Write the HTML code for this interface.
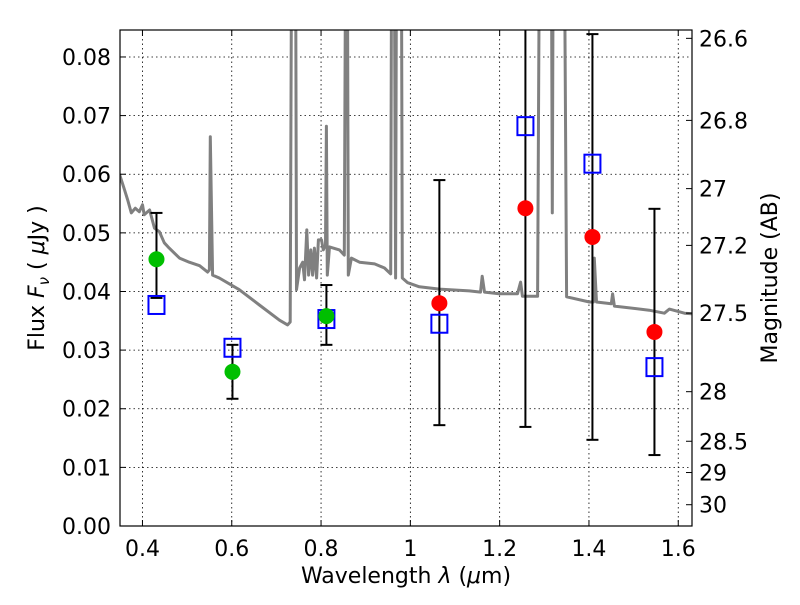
<!DOCTYPE html>
<html><head><meta charset="utf-8"><style>
body{margin:0;background:#fff;}
svg text{font-family:"DejaVu Sans","Liberation Sans",sans-serif;fill:#000;}
</style></head><body>
<svg id="chart" width="800" height="600" viewBox="0 0 800 600" xmlns="http://www.w3.org/2000/svg">
<defs><clipPath id="clip"><rect x="120" y="30" width="572" height="496"/></clipPath></defs>
<rect x="0" y="0" width="800" height="600" fill="#fff"/>
<g id="grid"></g>
<g id="spec" clip-path="url(#clip)"></g>
<g id="marks" clip-path="url(#clip)"></g>
<rect x="120" y="30" width="572" height="496" fill="none" stroke="#000" stroke-width="1.2"/>
<g id="axes"></g>
<text x="44" y="278" font-size="22" text-anchor="middle" transform="rotate(-90 44 278)">Flux  <tspan font-style="italic">F</tspan><tspan font-style="italic" font-size="15" dy="5">ν</tspan><tspan dy="-5">  ( </tspan><tspan font-style="italic">μ</tspan>Jy )</text>
<text x="406" y="583" font-size="22" text-anchor="middle">Wavelength  <tspan font-style="italic">λ</tspan> (<tspan font-style="italic">μ</tspan>m)</text>
<text x="777" y="278" font-size="22" text-anchor="middle" transform="rotate(-90 777 278)">Magnitude (AB)</text>
</svg>
<script>
const specWave=[.349,.360,.367,.375,.384,.393,.400,.404,.416,.427,.438,.449,.460,.483,.505,.528,.546,.550,.552,.557,.572,.617,.662,.707,.725,.731,.734,.743,.745,.752,.759,.763,.768,.772,.777,.781,.785,.790,.794,.801,.805,.810,.812,.814,.819,.841,.852,.855,.859,.861,.868,.886,.920,.942,.956,.958,.964,.967,.969,.980,.982,.994,1.020,1.065,1.132,1.157,1.161,1.166,1.199,1.240,1.247,1.251,1.285,1.289,1.316,1.318,1.320,1.345,1.350,1.401,1.410,1.412,1.417,1.450,1.453,1.457,1.535,1.569,1.580,1.614,1.630];
const specFlux=[.0599,.0573,.0556,.0534,.0542,.0536,.0548,.0531,.0539,.0508,.0502,.0483,.0474,.0457,.0450,.0444,.0433,.0437,.0664,.0428,.0423,.0403,.0377,.0351,.0343,.0348,.1,.1,.0403,.0440,.0450,.0420,.0505,.0428,.0471,.0428,.0474,.0423,.0488,.0488,.0471,.0479,.0682,.0428,.0476,.0471,.0462,.1,.1,.0428,.0457,.0450,.0447,.0440,.0430,.1,.1,.0423,.1,.1,.0423,.0415,.0408,.0404,.0401,.0399,.0426,.0399,.0396,.0396,.0416,.0392,.0392,.1,.1,.0534,.1,.1,.0391,.0382,.0382,.0457,.0382,.0379,.0396,.0375,.0368,.0363,.0370,.0363,.0362];
const greenWave=[.4314,.6016,.812];
const greenFlux=[.0455,.0263,.0358];
const greenLo=[.0389,.0217,.0309];
const greenHi=[.0534,.0309,.0411];
const redWave=[1.065,1.2577,1.4078,1.5467];
const redFlux=[.0380,.0542,.0493,.0331];
const redLo=[.0172,.0169,.0147,.0121];
const redHi=[.0590,.095,.0839,.0541];
const boxWave=[.4314,.6016,.812,1.065,1.2577,1.4078,1.5467];
const boxFlux=[.0377,.0304,.0353,.0345,.0682,.0618,.0271];
const xTicks=[0.4,0.6,0.8,1.0,1.2,1.4,1.6];
const xTickLabels=["0.4","0.6","0.8","1","1.2","1.4","1.6"];
const yTicks=[0,.01,.02,.03,.04,.05,.06,.07,.08];
const yTickLabels=["0.00","0.01","0.02","0.03","0.04","0.05","0.06","0.07","0.08"];
const magTicks=[26.6,26.8,27,27.2,27.5,28,28.5,29,30];
const magTickLabels=["26.6","26.8","27","27.2","27.5","28","28.5","29","30"];

const X0=120,X1=692,Y0=526,Y1=30,XMIN=0.3497,XMAX=1.6308,YMIN=0,YMAX=0.0846;
const sx=v=>X0+(v-XMIN)/(XMAX-XMIN)*(X1-X0);
const sy=v=>Y0-(v-YMIN)/(YMAX-YMIN)*(Y0-Y1);
const NS="http://www.w3.org/2000/svg";
function mk(tag,attrs,parent){const e=document.createElementNS(NS,tag);for(const k in attrs)e.setAttribute(k,attrs[k]);parent.appendChild(e);return e;}
const grid=document.getElementById('grid'),spec=document.getElementById('spec'),marks=document.getElementById('marks'),axes=document.getElementById('axes');

xTicks.forEach((t,i)=>{
  const g=mk('line',{x1:sx(t),x2:sx(t),y1:Y1,y2:Y0,stroke:'#000','stroke-width':0.8,'stroke-dasharray':'1.5,3'},grid);
  
  
  mk('line',{x1:sx(t),x2:sx(t),y1:Y0,y2:Y0-6,stroke:'#000'},axes);
  mk('line',{x1:sx(t),x2:sx(t),y1:Y1,y2:Y1+6,stroke:'#000'},axes);
  const l=mk('text',{x:sx(t),y:556,'font-size':22,'text-anchor':'middle'},axes);
  l.textContent=xTickLabels[i];
  
  
});
yTicks.forEach((t,i)=>{
  if(t>0){const g=mk('line',{x1:X0,x2:X1,y1:sy(t),y2:sy(t),stroke:'#000','stroke-width':0.8,'stroke-dasharray':'1.5,3'},grid);
  
  }
  mk('line',{x1:X0,x2:X0+6,y1:sy(t),y2:sy(t),stroke:'#000'},axes);
  const l=mk('text',{x:111,y:sy(t)+8,'font-size':22,'text-anchor':'end'},axes);
  l.textContent=yTickLabels[i];
  
  
});
magTicks.forEach((m,i)=>{
  const f=Math.pow(10,(23.9-m)/2.5);
  const y=sy(f);
  mk('line',{x1:X1,x2:X1-6,y1:y,y2:y,stroke:'#000'},axes);
  const l=mk('text',{x:699,y:y+8,'font-size':22},axes);
  l.textContent=magTickLabels[i];
  
  
});

const d=specWave.map((w,i)=>(i?'L':'M')+sx(w).toFixed(1)+','+sy(specFlux[i]).toFixed(1)).join('');
const sp=mk('path',{d:d,fill:'none',stroke:'#808080','stroke-width':3,'stroke-linejoin':'round'},spec);



function errbar(w,lo,hi){
  const x=sx(w);
  const e=mk('line',{x1:x,x2:x,y1:sy(hi),y2:sy(lo),stroke:'#000','stroke-width':2},marks);
  
  
  mk('line',{x1:x-6,x2:x+6,y1:sy(hi),y2:sy(hi),stroke:'#000','stroke-width':2},marks);
  mk('line',{x1:x-6,x2:x+6,y1:sy(lo),y2:sy(lo),stroke:'#000','stroke-width':2},marks);
}
greenWave.forEach((w,i)=>errbar(w,greenLo[i],greenHi[i]));
redWave.forEach((w,i)=>errbar(w,redLo[i],redHi[i]));
boxWave.forEach((w,i)=>{
  const r=mk('rect',{x:sx(w)-8,y:sy(boxFlux[i])-9,width:16,height:18,fill:'none',stroke:'#0000ff','stroke-width':2},marks);
  
  
});
greenWave.forEach((w,i)=>{
  const c=mk('circle',{cx:sx(w),cy:sy(greenFlux[i]),r:8,fill:'#00bf00'},marks);
  
  
});
redWave.forEach((w,i)=>{
  const c=mk('circle',{cx:sx(w),cy:sy(redFlux[i]),r:8,fill:'#ff0000'},marks);
  
  
});
</script>
</body></html>
